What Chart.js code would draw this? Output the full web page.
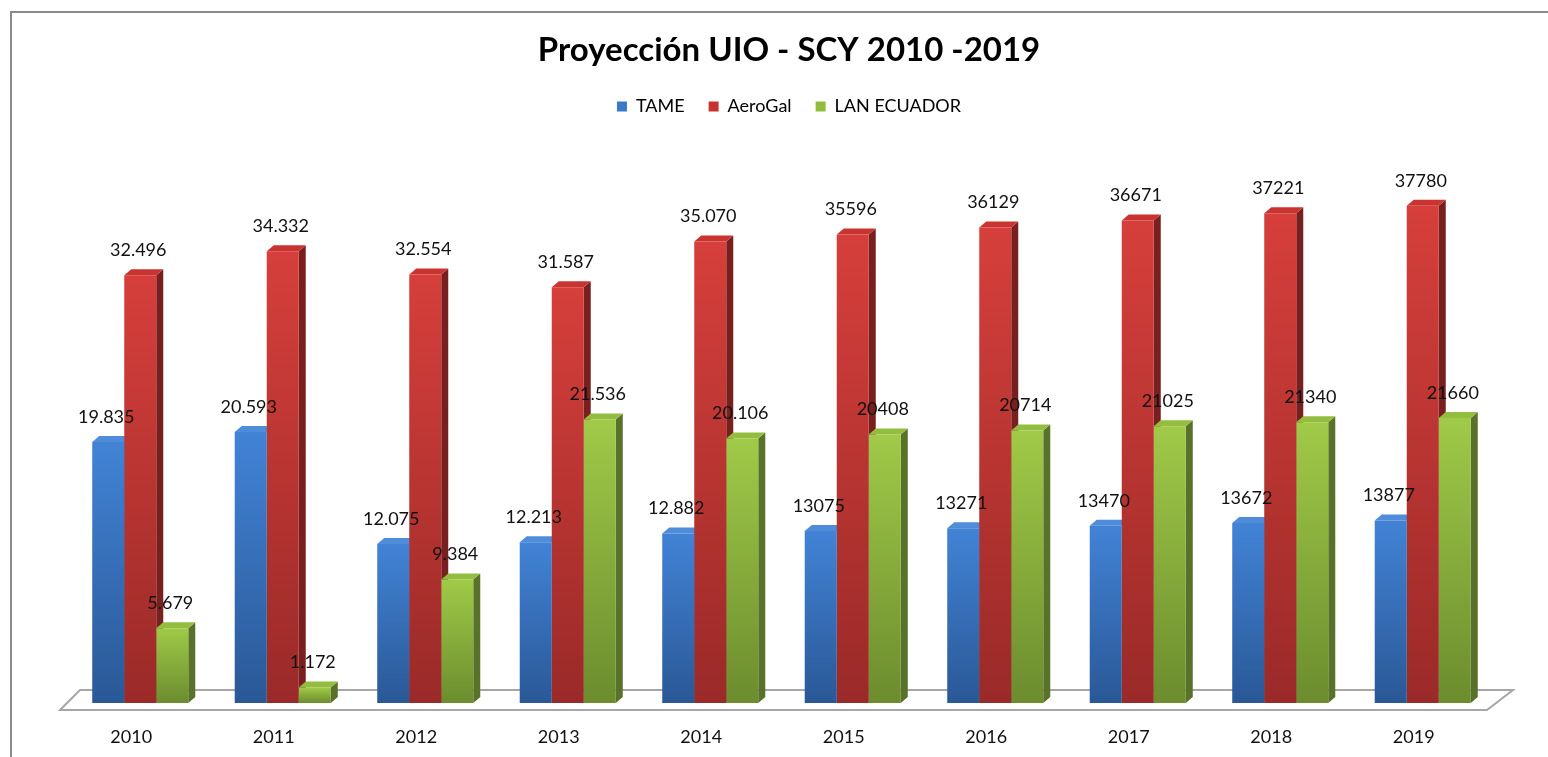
<!DOCTYPE html>
<html>
<head>
<meta charset="utf-8">
<script src="https://cdn.jsdelivr.net/npm/chart.js@4.4.1/dist/chart.umd.min.js"></script>
<style>
  html, body { margin: 0; padding: 0; background: #fff; }
  #wrap { width: 1548px; height: 757px; position: relative; }
</style>
</head>
<body>
<div id="wrap"><canvas id="c"></canvas></div>
<script>
const years = ['2010','2011','2012','2013','2014','2015','2016','2017','2018','2019'];
const tame = [19835, 20593, 12075, 12213, 12882, 13075, 13271, 13470, 13672, 13877];
const aerogal = [32496, 34332, 32554, 31587, 35070, 35596, 36129, 36671, 37221, 37780];
const lan = [5679, 1172, 9384, 21536, 20106, 20408, 20714, 21025, 21340, 21660];
const seriesNames = ['TAME', 'AeroGal', 'LAN ECUADOR'];
const dotFormatYears = ['2010','2011','2012','2013','2014'];
const titleText = 'Proyección UIO - SCY 2010 -2019';

const palette = [
  { top: '#4283d6', bottom: '#2a5896', side: '#244c82', cap: '#4f8cd9', legend: '#3a78c8' },
  { top: '#d63f3b', bottom: '#9a2a28', side: '#78201f', cap: '#c93431', legend: '#c8322f' },
  { top: '#a0ca48', bottom: '#6c8c2e', side: '#58722a', cap: '#93bd3e', legend: '#92bd3c' }
];
const DX = 7, DY = -6;

function fmt(v, i) {
  if (dotFormatYears.includes(years[i])) {
    const s = String(v);
    return s.length > 3 ? s.slice(0, s.length - 3) + '.' + s.slice(-3) : s;
  }
  return String(v);
}

function frontFill(idx) {
  return function (c) {
    const ch = c.chart;
    if (c.type !== 'data' || !ch.chartArea || !ch.scales.y) return palette[idx].top;
    const y = ch.scales.y.getPixelForValue(c.raw);
    const b = ch.scales.y.getPixelForValue(0);
    const g = ch.ctx.createLinearGradient(0, y, 0, b);
    g.addColorStop(0, palette[idx].top);
    g.addColorStop(1, palette[idx].bottom);
    return g;
  };
}

const decor = {
  id: 'decor',
  beforeDraw(chart) {
    const ctx = chart.ctx;
    ctx.save();
    ctx.fillStyle = '#fff';
    ctx.fillRect(0, 0, chart.width, chart.height);
    ctx.strokeStyle = '#8a8a8a';
    ctx.lineWidth = 2;
    ctx.beginPath();
    ctx.moveTo(11, chart.height);
    ctx.lineTo(11, 12);
    ctx.lineTo(chart.width, 12);
    ctx.stroke();
    ctx.restore();
  },
  beforeDatasetsDraw(chart) {
    const ctx = chart.ctx;
    const a = chart.chartArea;
    ctx.save();
    ctx.beginPath();
    ctx.moveTo(a.left - 9, a.bottom + 7);
    ctx.lineTo(a.right - 7, a.bottom + 7);
    ctx.lineTo(a.right + 19, a.bottom - 13);
    ctx.lineTo(a.left + 11, a.bottom - 13);
    ctx.closePath();
    ctx.fillStyle = '#fff';
    ctx.fill();
    ctx.strokeStyle = '#a6a6a6';
    ctx.lineWidth = 2;
    ctx.stroke();
    chart.data.datasets.forEach((ds, di) => {
      const meta = chart.getDatasetMeta(di);
      meta.data.forEach(bar => {
        const w = bar.width;
        const l = bar.x - w / 2, r = bar.x + w / 2;
        const t = bar.y, b = bar.base;
        ctx.beginPath();
        ctx.moveTo(r, t);
        ctx.lineTo(r + DX, t + DY);
        ctx.lineTo(r + DX, b + DY);
        ctx.lineTo(r, b);
        ctx.closePath();
        ctx.fillStyle = palette[di].side;
        ctx.fill();
        ctx.beginPath();
        ctx.moveTo(l, t);
        ctx.lineTo(l + DX, t + DY);
        ctx.lineTo(r + DX, t + DY);
        ctx.lineTo(r, t);
        ctx.closePath();
        ctx.fillStyle = palette[di].cap;
        ctx.fill();
      });
    });
    ctx.restore();
  },
  afterDatasetsDraw(chart) {
    const ctx = chart.ctx;
    ctx.save();
    ctx.font = '18px Lato';
    ctx.fillStyle = '#111';
    ctx.textAlign = 'center';
    ctx.textBaseline = 'middle';
    chart.data.datasets.forEach((ds, di) => {
      const meta = chart.getDatasetMeta(di);
      meta.data.forEach((bar, i) => {
        ctx.fillText(fmt(ds.data[i], i), bar.x - 2, bar.y - 25);
      });
    });
    ctx.restore();
  }
};

new Chart(document.getElementById('c'), {
  type: 'bar',
  data: {
    labels: years,
    datasets: [
      { label: seriesNames[0], data: tame, backgroundColor: frontFill(0) },
      { label: seriesNames[1], data: aerogal, backgroundColor: frontFill(1) },
      { label: seriesNames[2], data: lan, backgroundColor: frontFill(2) }
    ]
  },
  options: {
    responsive: true,
    maintainAspectRatio: false,
    animation: false,
    layout: { padding: { left: 69, right: 39, top: 0, bottom: 0 } },
    datasets: { bar: { categoryPercentage: 0.674, barPercentage: 1.0, borderWidth: 0 } },
    scales: {
      x: {
        grid: { display: false, drawTicks: false },
        border: { display: false },
        ticks: { color: '#111', font: { family: 'Lato', size: 18 }, padding: 23, labelOffset: -9 },
        afterFit(s) { s.height = 54; }
      },
      y: {
        display: false,
        min: 0,
        max: 40000
      },
      xTop: {
        type: 'category',
        axis: 'x',
        position: 'top',
        display: true,
        grid: { display: false, drawTicks: false },
        border: { display: false },
        ticks: { display: false },
        afterFit(s) { s.height = 51; }
      },
      yRight: {
        type: 'linear',
        axis: 'y',
        position: 'right',
        display: true,
        grid: { display: false, drawTicks: false },
        border: { display: false },
        ticks: { display: false },
        afterFit(s) { s.width = 15; }
      }
    },
    plugins: {
      title: {
        display: true,
        text: titleText,
        color: '#000',
        font: { family: 'Lato', size: 33, weight: 'bold' },
        padding: { top: 31, bottom: 3 }
      },
      legend: {
        display: true,
        labels: {
          color: '#111',
          font: { family: 'Lato', size: 18 },
          boxWidth: 10,
          boxHeight: 10,
          padding: 24,
          generateLabels(chart) {
            return chart.data.datasets.map((ds, i) => ({
              text: ds.label,
              fillStyle: palette[i].legend,
              strokeStyle: palette[i].legend,
              lineWidth: 0,
              hidden: false,
              datasetIndex: i
            }));
          }
        }
      },
      tooltip: { enabled: false }
    }
  },
  plugins: [decor]
});
</script>
</body>
</html>
